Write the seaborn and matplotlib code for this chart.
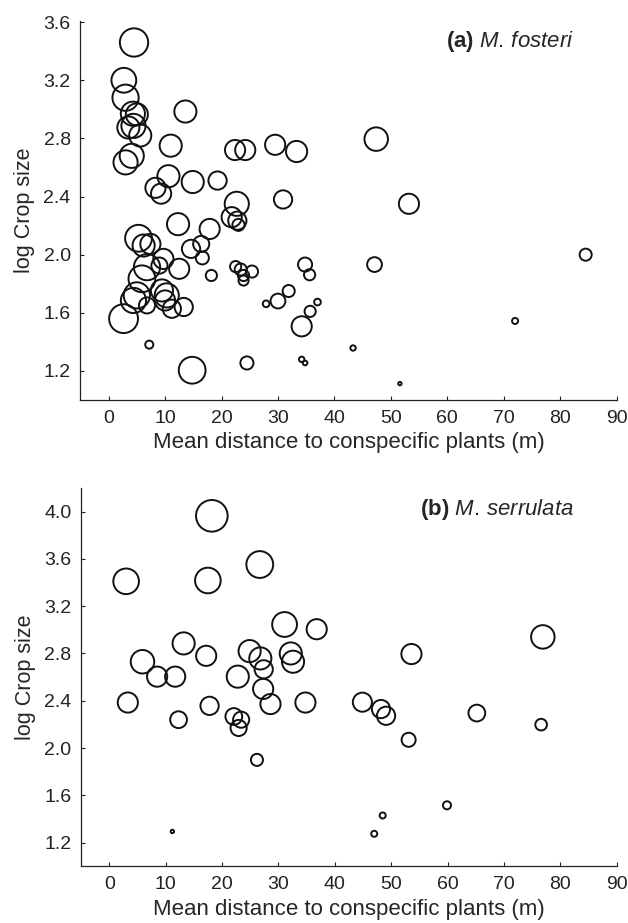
import numpy as np
import pandas as pd
import seaborn as sns
import matplotlib
matplotlib.use('Agg')
import matplotlib.pyplot as plt

# (a) M. fosteri: distance (m), log crop size, relative bubble size
dist_a = [4.5, 2.7, 3.0, 4.3, 5.0, 3.5, 4.4, 5.6, 3.0, 4.1,
          13.6, 11.0, 22.4, 24.2, 29.5, 33.3, 10.6, 8.3, 9.3, 14.9,
          19.3, 22.7, 30.9, 47.4, 53.2, 84.5, 47.1, 34.8, 35.6, 37.0,
          35.7, 34.2, 72.0, 43.3, 34.2, 34.8, 51.6, 21.8, 22.8, 23.0,
          12.3, 17.9, 5.3, 6.2, 7.4, 14.6, 16.4, 16.6, 9.7, 6.8,
          9.0, 12.5, 18.2, 22.5, 23.4, 23.9, 23.9, 25.4, 5.9, 5.0,
          4.4, 6.8, 2.65, 9.45, 10.3, 10.0, 11.2, 13.3, 7.2, 14.8,
          24.5, 27.9, 30.0, 31.9]
crop_a = [3.46, 3.20, 3.08, 2.97, 2.965, 2.875, 2.886, 2.82, 2.635, 2.68,
          2.985, 2.75, 2.72, 2.72, 2.756, 2.71, 2.54, 2.46, 2.42, 2.50,
          2.51, 2.35, 2.38, 2.795, 2.35, 2.00, 1.932, 1.932, 1.862, 1.674,
          1.61, 1.507, 1.544, 1.358, 1.28, 1.255, 1.113, 2.258, 2.234, 2.205,
          2.21, 2.177, 2.113, 2.063, 2.074, 2.04, 2.074, 1.978, 1.971, 1.914,
          1.925, 1.903, 1.857, 1.918, 1.898, 1.857, 1.822, 1.884, 1.834, 1.72,
          1.685, 1.651, 1.56, 1.754, 1.72, 1.685, 1.628, 1.64, 1.381, 1.205,
          1.255, 1.662, 1.681, 1.75]
size_a = [0.77, 0.59, 0.66, 0.56, 0.47, 0.47, 0.56, 0.47, 0.56, 0.56,
          0.47, 0.47, 0.39, 0.39, 0.39, 0.43, 0.47, 0.39, 0.39, 0.47,
          0.32, 0.56, 0.32, 0.53, 0.39, 0.14, 0.21, 0.19, 0.12, 0.043,
          0.12, 0.39, 0.035, 0.028, 0.028, 0.021, 0.011, 0.39, 0.32, 0.14,
          0.47, 0.39, 0.69, 0.47, 0.39, 0.32, 0.25, 0.165, 0.39, 0.66,
          0.25, 0.39, 0.12, 0.12, 0.14, 0.12, 0.098, 0.14, 0.69, 0.66,
          0.61, 0.25, 0.80, 0.47, 0.56, 0.39, 0.32, 0.32, 0.0625, 0.69,
          0.165, 0.043, 0.21, 0.14]

# (b) M. serrulata
dist_b = [18.2, 3.0, 17.5, 26.7, 31.1, 36.8, 53.6, 24.9, 26.8, 27.4,
          32.2, 32.6, 27.3, 28.6, 34.8, 44.9, 48.2, 49.1, 53.1, 3.3,
          5.9, 8.5, 11.7, 13.2, 17.2, 12.3, 17.8, 22.8, 22.1, 23.4,
          22.95, 26.2, 76.9, 65.2, 76.6, 11.2, 59.9, 48.5, 47.0]
crop_b = [3.964, 3.41, 3.417, 3.552, 3.045, 3.005, 2.795, 2.82, 2.758, 2.666,
          2.80, 2.73, 2.50, 2.372, 2.385, 2.388, 2.33, 2.273, 2.07, 2.385,
          2.73, 2.604, 2.604, 2.885, 2.78, 2.24, 2.357, 2.604, 2.267, 2.24,
          2.17, 1.90, 2.94, 2.296, 2.198, 1.295, 1.516, 1.43, 1.275]
size_b = [0.96, 0.63, 0.63, 0.69, 0.59, 0.39, 0.39, 0.47, 0.47, 0.32,
          0.47, 0.47, 0.39, 0.39, 0.39, 0.35, 0.32, 0.32, 0.19, 0.39,
          0.53, 0.39, 0.39, 0.47, 0.39, 0.27, 0.32, 0.47, 0.27, 0.25,
          0.25, 0.14, 0.53, 0.27, 0.13, 0.011, 0.0625, 0.035, 0.035]

xticks = list(range(0, 100, 10))
yticks_a = [1.2, 1.6, 2.0, 2.4, 2.8, 3.2, 3.6]
yticks_b = [1.2, 1.6, 2.0, 2.4, 2.8, 3.2, 3.6, 4.0]

sns.set_style('ticks')
plt.rcParams['font.family'] = ['Liberation Sans', 'DejaVu Sans']
plt.rcParams['mathtext.fontset'] = 'custom'
plt.rcParams['mathtext.rm'] = 'Liberation Sans'
plt.rcParams['mathtext.it'] = 'Liberation Sans:italic'
plt.rcParams['mathtext.bf'] = 'Liberation Sans:bold'

fig = plt.figure(figsize=(6.28, 9.23), dpi=100)
ax_a = fig.add_axes([0.128, 0.5666, 0.854, 0.411])
ax_b = fig.add_axes([0.129, 0.0614, 0.853, 0.410])

panels = [
    (ax_a, dist_a, crop_a, size_a, (1.0, 3.61), yticks_a, r'$\bf{(a)}$ $\it{M.\!\ fosteri}$'),
    (ax_b, dist_b, crop_b, size_b, (1.0, 4.2), yticks_b, r'$\bf{(b)}$ $\it{M.\!\ serrulata}$'),
]

for ax, xs, ys, ss, ylim, yticks, label in panels:
    df = pd.DataFrame({'dist': xs, 'crop': ys, 'size': ss})
    sns.scatterplot(data=df, x='dist', y='crop', size='size', sizes=(0, 540),
                    size_norm=(0, 1), facecolors='none', edgecolor='#111111',
                    linewidth=1.4, legend=False, ax=ax)
    ax.set_xlim(-5, 90)
    ax.set_ylim(*ylim)
    ax.set_xticks(xticks)
    ax.set_yticks(yticks)
    ax.set_yticklabels([f'{t:.1f}' for t in yticks])
    ax.tick_params(direction='in', length=3, width=0.8, pad=7, labelsize=14,
                   colors='#222222')
    for side in ('left', 'bottom'):
        ax.spines[side].set_linewidth(0.9)
        ax.spines[side].set_color('#222222')
    sns.despine(ax=ax)
    ax.set_xlabel('Mean distance to conspecific plants (m)', fontsize=16, labelpad=4)
    ax.set_ylabel('log Crop size', fontsize=15.5, labelpad=6)
    ax.text(0.92, 0.944, label, transform=ax.transAxes, ha='right', va='center',
            fontsize=16)

fig.savefig('out.png', dpi=100)
